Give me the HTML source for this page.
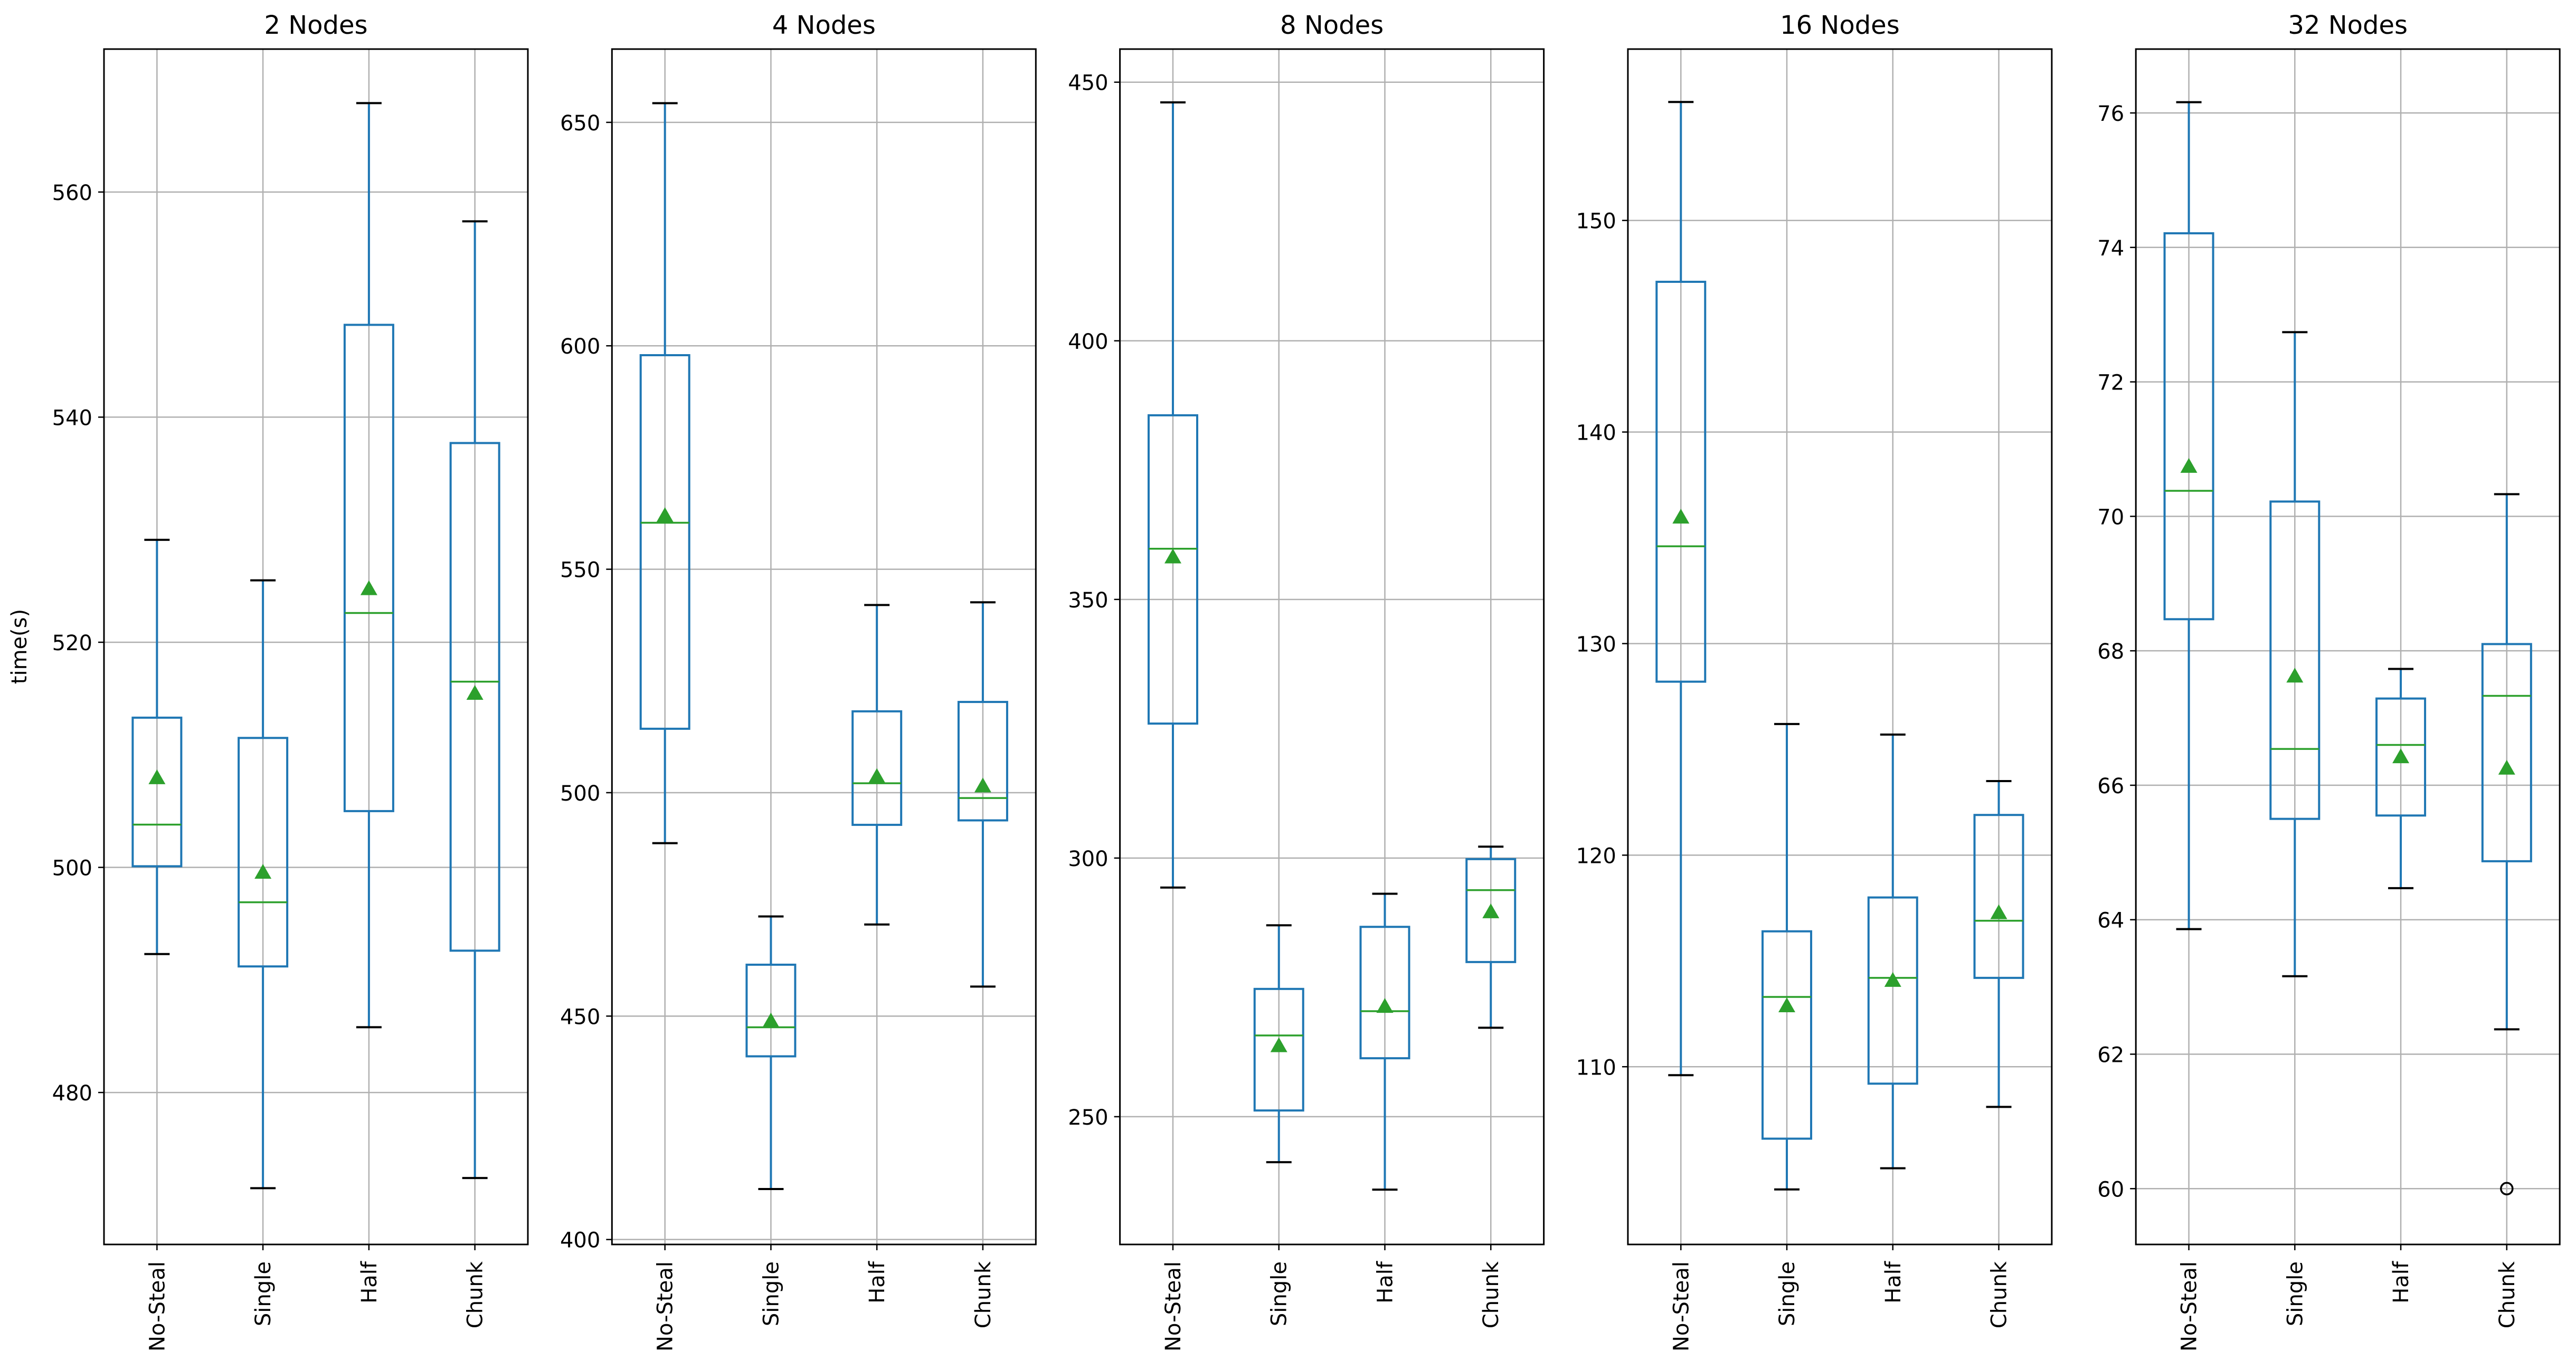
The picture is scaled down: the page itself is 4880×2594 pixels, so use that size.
<!DOCTYPE html>
<html><head><meta charset="utf-8"><style>
html,body{margin:0;padding:0;background:#fff}
svg{display:block}
text{font-family:"DejaVu Sans","Liberation Sans",sans-serif;fill:#000}
</style></head><body>
<svg id="chart" width="4880" height="2594" viewBox="0 0 4880 2594" xmlns="http://www.w3.org/2000/svg">
<rect width="4880" height="2594" fill="#fff"/>
<text x="50" y="1225" font-size="40" text-anchor="middle" transform="rotate(-90 50 1225)">time(s)</text>
</svg>
<script>
const categories = ["No-Steal","Single","Half","Chunk"];
const panelTitles = ["2 Nodes","4 Nodes","8 Nodes","16 Nodes","32 Nodes"];
const yDomains = [[466.5,572.7],[398.9,666.4],[225.3,456.4],[101.6,158.1],[59.17,76.95]];
const yTicks = [[480,500,520,540,560],[400,450,500,550,600,650],[250,300,350,400,450],[110,120,130,140,150],[60,62,64,66,68,70,72,74,76]];
// each panel: per category [whiskerLow, Q1, median, Q3, whiskerHigh]
const boxStats2 = [[492.3,500.1,503.8,513.3,529.1],[471.5,491.2,496.9,511.5,525.5],[485.8,505.0,522.6,548.2,567.9],[472.4,492.6,516.5,537.7,557.4]];
const boxStats4 = [[488.7,514.3,560.4,597.9,654.3],[411.3,441.0,447.5,461.5,472.3],[470.5,492.8,502.1,518.2,542.0],[456.6,493.8,498.8,520.3,542.6]];
const boxStats8 = [[294.3,326.0,359.8,385.6,446.1],[241.2,251.2,265.7,274.7,287.0],[235.9,261.3,270.4,286.7,293.1],[267.2,279.9,293.8,299.8,302.2]];
const boxStats16 = [[109.6,128.2,134.6,147.1,155.6],[104.2,106.6,113.3,116.4,126.2],[105.2,109.2,114.2,118.0,125.7],[108.1,114.2,116.9,121.9,123.5]];
const boxStats32 = [[63.86,68.47,70.38,74.21,76.16],[63.16,65.50,66.54,70.22,72.74],[64.47,65.55,66.60,67.29,67.73],[62.37,64.87,67.33,68.10,70.33]];
const means2 = [508.0,499.6,524.8,515.5];
const means4 = [562.1,449.0,503.7,501.6];
const means8 = [358.3,263.8,271.4,289.7];
const means16 = [136.0,112.9,114.1,117.3];
const means32 = [70.75,67.63,66.43,66.26];
const outliers32Chunk = [60.0];

const allStats=[boxStats2,boxStats4,boxStats8,boxStats16,boxStats32];
const allMeans=[means2,means4,means8,means16,means32];
const NS="http://www.w3.org/2000/svg";
const svg=document.getElementById('chart');
const TOP=93,BOT=2358,W=803,STEP=962.3,LEFT0=197;
function mk(tag,attrs,parent){const e=document.createElementNS(NS,tag);for(const k in attrs)e.setAttribute(k,attrs[k]);(parent||svg).appendChild(e);return e;}

for(let p=0;p<5;p++){
  const L=LEFT0+p*STEP,R=L+W;
  const [d0,d1]=yDomains[p];
  const y=v=>BOT-(v-d0)/(d1-d0)*(BOT-TOP);
  const x=i=>L+(i+0.5)*W/4;
  const g=mk('g',{});
  
  
  yTicks[p].forEach(t=>{
    const gl=mk('line',{x1:L,x2:R,y1:y(t),y2:y(t),stroke:'#b0b0b0','stroke-width':2.5},g);
    
    
    const tk=mk('line',{x1:L-11,x2:L,y1:y(t),y2:y(t),stroke:'#000','stroke-width':2.5},g);
    
    
    const tl=mk('text',{x:L-22,y:y(t)+15,'font-size':40,'text-anchor':'end'},g);
    tl.textContent=t;
    
    
  });
  categories.forEach((c,i)=>{
    const gl=mk('line',{x1:x(i),x2:x(i),y1:TOP,y2:BOT,stroke:'#b0b0b0','stroke-width':2.5},g);
    
    
    const tk=mk('line',{x1:x(i),x2:x(i),y1:BOT,y2:BOT+11,stroke:'#000','stroke-width':2.5},g);
    
    
    const tl=mk('text',{x:x(i)+14,y:BOT+32,'font-size':40,'text-anchor':'end',transform:`rotate(-90 ${x(i)+14} ${BOT+32})`},g);
    tl.textContent=c;
    
    
  });
  allStats[p].forEach((s,i)=>{
    const [lo,q1,md,q3,hi]=s,cx=x(i),bw=92,cw=48;
    const bg=mk('g',{},g);
    
    
    mk('line',{x1:cx,x2:cx,y1:y(q3),y2:y(hi),stroke:'#1f77b4','stroke-width':4},bg);
    mk('line',{x1:cx,x2:cx,y1:y(q1),y2:y(lo),stroke:'#1f77b4','stroke-width':4},bg);
    mk('line',{x1:cx-cw/2,x2:cx+cw/2,y1:y(hi),y2:y(hi),stroke:'#000','stroke-width':4},bg);
    mk('line',{x1:cx-cw/2,x2:cx+cw/2,y1:y(lo),y2:y(lo),stroke:'#000','stroke-width':4},bg);
    mk('rect',{x:cx-bw/2,y:y(q3),width:bw,height:y(q1)-y(q3),fill:'none',stroke:'#1f77b4','stroke-width':4},bg);
    mk('line',{x1:cx-bw/2,x2:cx+bw/2,y1:y(md),y2:y(md),stroke:'#2ca02c','stroke-width':3.5},bg);
    const m=allMeans[p][i],my=y(m);
    const tri=mk('polygon',{points:`${cx-16},${my+13} ${cx+16},${my+13} ${cx},${my-15}`,fill:'#2ca02c'},bg);
    
    
  });
  if(p===4){
    outliers32Chunk.forEach(v=>{
      const o=mk('circle',{cx:x(3),cy:y(v),r:11,fill:'none',stroke:'#000','stroke-width':3.5},g);
      
      
    });
  }
  const fr=mk('rect',{x:L,y:TOP,width:W,height:BOT-TOP,fill:'none',stroke:'#000','stroke-width':3},g);
  
  
  const tt=mk('text',{x:L+W/2,y:64,'font-size':48,'text-anchor':'middle'},g);
  tt.textContent=panelTitles[p];
  
  
}
</script>
</body></html>
